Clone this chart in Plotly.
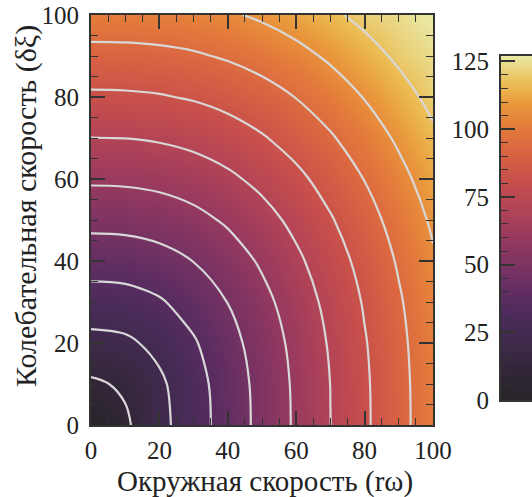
import plotly.graph_objects as go

# --- data ---
x_vals = [0, 10, 20, 30, 40, 50, 60, 70, 80, 90, 100]   # Окружная скорость (rω)
y_vals = [0, 10, 20, 30, 40, 50, 60, 70, 80, 90, 100]   # Колебательная скорость (δξ)
z_y0   = [0, 10.7, 21.4, 32.1, 42.8, 53.5, 64.2, 74.9, 85.6, 96.3, 107.0]
z_y10  = [10.7, 14.1, 22.8, 32.9, 43.3, 53.9, 64.5, 75.1, 85.8, 96.5, 107.1]
z_y20  = [21.4, 22.8, 28.2, 36.3, 45.7, 55.6, 65.8, 76.2, 86.7, 97.2, 107.8]
z_y30  = [32.1, 32.9, 36.3, 42.4, 50.2, 59.0, 68.5, 78.4, 88.5, 98.7, 109.1]
z_y40  = [42.8, 43.3, 45.7, 50.2, 56.5, 64.1, 72.7, 81.8, 91.4, 101.2, 111.2]
z_y50  = [53.5, 53.9, 55.6, 59.0, 64.1, 70.6, 78.1, 86.5, 95.3, 104.6, 114.2]
z_y60  = [64.2, 64.5, 65.8, 68.5, 72.7, 78.1, 84.7, 92.2, 100.3, 109.0, 118.1]
z_y70  = [74.9, 75.1, 76.2, 78.4, 81.8, 86.5, 92.2, 98.8, 106.2, 114.3, 122.8]
z_y80  = [85.6, 85.8, 86.7, 88.5, 91.4, 95.3, 100.3, 106.2, 113.0, 120.3, 128.2]
z_y90  = [96.3, 96.5, 97.2, 98.7, 101.2, 104.6, 109.0, 114.3, 120.3, 127.1, 131.0]
z_y100 = [107.0, 107.1, 107.8, 109.1, 111.2, 114.2, 118.1, 122.8, 128.2, 131.0, 135.0]
z_rows = [z_y0, z_y10, z_y20, z_y30, z_y40, z_y50, z_y60, z_y70, z_y80, z_y90, z_y100]

contour_start, contour_end, contour_step = 12.5, 125, 12.5
axis_ticks = [0, 20, 40, 60, 80, 100]
cbar_ticks = [0, 25, 50, 75, 100, 125]
cbar_min, cbar_max = 0, 127
cbar_levels = list(range(cbar_min, cbar_max + 1))
map_max = 134   # value shown in the palest colour inside the main panel

colorscale = [
    [0.00, "#272428"], [0.08, "#312636"], [0.16, "#3d2a4a"], [0.24, "#4b2b5a"],
    [0.32, "#632e62"], [0.40, "#7f3463"], [0.48, "#9a3a5e"], [0.56, "#b34456"],
    [0.64, "#c8504b"], [0.72, "#d96342"], [0.80, "#e47d3b"], [0.86, "#e9983c"],
    [0.92, "#ebbb52"], [1.00, "#e9e8a3"],
]

FONT = "Liberation Serif"
TXT = "#222222"
AX = "#333333"

fig = go.Figure()
fig.add_trace(go.Heatmap(
    x=x_vals, y=y_vals, z=z_rows, zsmooth="best",
    colorscale=colorscale, zmin=cbar_min, zmax=map_max,
    showscale=False, hoverinfo="skip", xaxis="x", yaxis="y",
))
fig.add_trace(go.Contour(
    x=x_vals, y=y_vals, z=z_rows,
    contours=dict(start=contour_start, end=contour_end, size=contour_step, coloring="none"),
    line=dict(color="#d8d8d8", width=2.2, smoothing=1.0),
    showscale=False, hoverinfo="skip", xaxis="x", yaxis="y",
))
# colour bar drawn as its own small heatmap panel
fig.add_trace(go.Heatmap(
    x=[0, 1], y=cbar_levels, z=[[v, v] for v in cbar_levels], zsmooth="best",
    colorscale=colorscale, zmin=cbar_min, zmax=cbar_max,
    showscale=False, hoverinfo="skip", xaxis="x2", yaxis="y2",
))

W, H = 532, 497
main_axis = dict(
    showgrid=False, zeroline=False, showline=True, linewidth=2, linecolor=AX,
    mirror="ticks", ticks="inside", ticklen=14, tickwidth=1.5, tickcolor=AX,
    tickvals=axis_ticks, range=[0, 100], automargin=False,
    tickfont=dict(family=FONT, size=25, color=TXT),
    minor=dict(ticks="inside", ticklen=7, tickwidth=1.2, tickcolor=AX, dtick=5, showgrid=False),
)
fig.update_layout(
    width=W, height=H, margin=dict(l=0, r=0, t=0, b=0, autoexpand=False),
    paper_bgcolor="white", plot_bgcolor="white", showlegend=False,
    xaxis=dict(main_axis, domain=[91 / W, 433 / W], anchor="y", ticklabelstandoff=2),
    yaxis=dict(main_axis, domain=[1 - 425 / H, 1 - 15 / H], anchor="x", ticklabelstandoff=5),
    xaxis2=dict(domain=[501 / W, 1.0], anchor="y2", range=[0, 1], showticklabels=False,
                showgrid=False, zeroline=False, ticks="", showline=True, linewidth=2,
                linecolor=AX, mirror=True, automargin=False),
    yaxis2=dict(domain=[1 - 400 / H, 1 - 56 / H], anchor="x2", range=[cbar_min, cbar_max],
                side="left", showgrid=False, zeroline=False, showline=True, linewidth=2,
                linecolor=AX, ticks="inside", ticklen=14, tickwidth=1.5, tickcolor=AX,
                tickvals=cbar_ticks, ticklabelstandoff=5, automargin=False,
                tickfont=dict(family=FONT, size=25, color=TXT),
                minor=dict(ticks="inside", ticklen=7, tickwidth=1.2, tickcolor=AX, dtick=5)),
    annotations=[
        dict(text="Окружная скорость (rω)", xref="paper", yref="paper",
             x=265 / W, y=1 - 481 / H, showarrow=False,
             font=dict(family=FONT, size=29, color=TXT), xanchor="center", yanchor="middle"),
        dict(text="Колебательная скорость (δξ)", xref="paper", yref="paper",
             x=26 / W, y=1 - 206 / H, showarrow=False, textangle=-90,
             font=dict(family=FONT, size=30, color=TXT), xanchor="center", yanchor="middle"),
    ],
)

fig.write_html("out.html")
